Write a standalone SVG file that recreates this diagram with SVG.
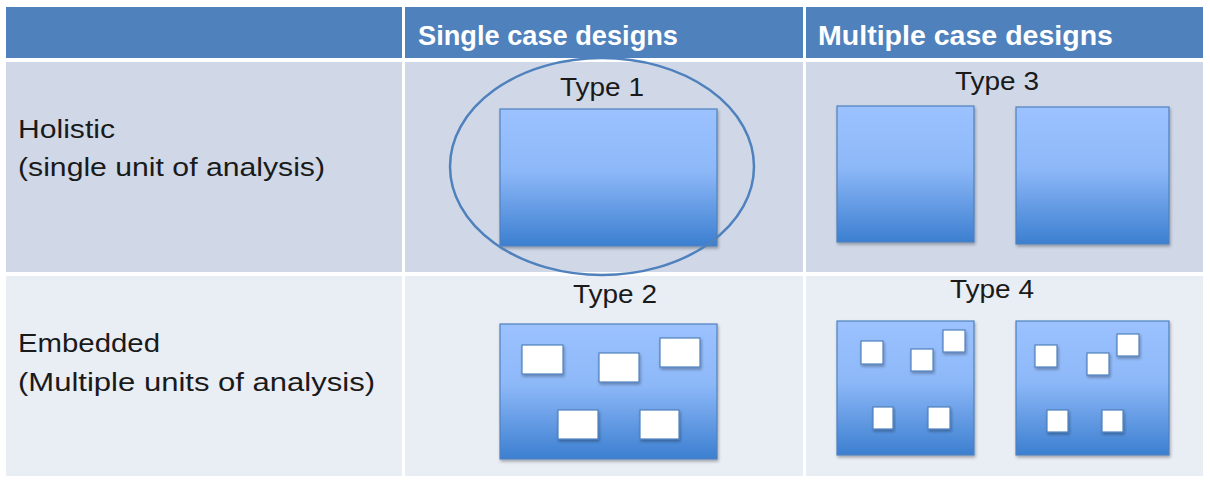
<svg xmlns="http://www.w3.org/2000/svg" width="1210" height="481" viewBox="0 0 1210 481">
  <style>
    .hdr { fill: #4F81BD; }
    .r1 { fill: #D0D8E8; }
    .r2 { fill: #E9EDF4; }
    .ht { font-family: "Liberation Sans", Arial, sans-serif; font-weight: bold; font-size: 27px; fill: #FFFFFF; }
    .lt { font-family: "Liberation Sans", Arial, sans-serif; font-size: 26px; fill: #1a1a1a; }
    .tt { font-family: "Liberation Sans", Arial, sans-serif; font-size: 26px; fill: #1a1a1a; text-anchor: middle; }
    .box { fill: url(#blueGrad); stroke: #4F81BD; stroke-width: 1.2; filter: url(#shadow); }
    .unit { fill: #FFFFFF; stroke: #4F81BD; stroke-width: 1.2; filter: url(#shadow); }
  </style>
  <defs>
    <linearGradient id="blueGrad" x1="0" y1="0" x2="0" y2="1">
      <stop offset="0" stop-color="#9CC2FF"/>
      <stop offset="0.45" stop-color="#8DB8F8"/>
      <stop offset="1" stop-color="#3C7FD0"/>
    </linearGradient>
    <filter id="shadow" x="-10%" y="-10%" width="125%" height="130%">
      <feDropShadow dx="1" dy="2" stdDeviation="1.5" flood-color="#000000" flood-opacity="0.3"/>
    </filter>
  </defs>
  <rect x="0" y="0" width="1210" height="481" fill="#FFFFFF"/>

  <g id="table">
    <rect class="hdr" x="6" y="7" width="396" height="51"/>
    <rect class="hdr" x="405" y="7" width="398" height="51"/>
    <rect class="hdr" x="806" y="7" width="397" height="51"/>
    <rect class="r1" x="6" y="62" width="396" height="210"/>
    <rect class="r1" x="405" y="62" width="398" height="210"/>
    <rect class="r1" x="806" y="62" width="397" height="210"/>
    <rect class="r2" x="6" y="276" width="396" height="200"/>
    <rect class="r2" x="405" y="276" width="398" height="200"/>
    <rect class="r2" x="806" y="276" width="397" height="200"/>
  </g>

  <g id="headers">
    <text class="ht" x="418" y="45" textLength="260" lengthAdjust="spacingAndGlyphs">Single case designs</text>
    <text class="ht" x="818" y="45" textLength="295" lengthAdjust="spacingAndGlyphs">Multiple case designs</text>
  </g>

  <g id="row-labels">
    <text class="lt" x="18" y="138" textLength="97" lengthAdjust="spacingAndGlyphs">Holistic</text>
    <text class="lt" x="18" y="176" textLength="307" lengthAdjust="spacingAndGlyphs">(single unit of analysis)</text>
    <text class="lt" x="18" y="352" textLength="142" lengthAdjust="spacingAndGlyphs">Embedded</text>
    <text class="lt" x="18" y="391" textLength="357" lengthAdjust="spacingAndGlyphs">(Multiple units of analysis)</text>
  </g>

  <g id="type1">
    <text class="tt" x="602" y="96" textLength="84" lengthAdjust="spacingAndGlyphs">Type 1</text>
    <rect class="box" x="500" y="109" width="217" height="137"/>
    <ellipse cx="602" cy="166.5" rx="152" ry="108.5" fill="none" stroke="#4F81BD" stroke-width="2.5"/>
  </g>

  <g id="type3">
    <text class="tt" x="997" y="90" textLength="84" lengthAdjust="spacingAndGlyphs">Type 3</text>
    <rect class="box" x="837" y="106" width="137" height="136"/>
    <rect class="box" x="1016" y="107" width="153" height="137"/>
  </g>

  <g id="type2">
    <text class="tt" x="615" y="303" textLength="84" lengthAdjust="spacingAndGlyphs">Type 2</text>
    <rect class="box" x="500" y="324" width="217" height="135"/>
    <rect class="unit" x="522" y="345" width="41" height="29"/>
    <rect class="unit" x="599" y="353" width="40" height="29"/>
    <rect class="unit" x="660" y="338" width="40" height="29"/>
    <rect class="unit" x="558" y="410" width="40" height="29"/>
    <rect class="unit" x="640" y="410" width="39" height="29"/>
  </g>

  <g id="type4">
    <text class="tt" x="992" y="298" textLength="84" lengthAdjust="spacingAndGlyphs">Type 4</text>
    <rect class="box" x="837" y="321" width="137" height="134"/>
    <rect class="unit" x="861" y="341" width="22" height="23"/>
    <rect class="unit" x="911" y="349" width="22" height="22"/>
    <rect class="unit" x="943" y="330" width="22" height="22"/>
    <rect class="unit" x="873" y="407" width="20" height="22"/>
    <rect class="unit" x="928" y="407" width="22" height="22"/>
    <rect class="box" x="1016" y="321" width="153" height="134"/>
    <rect class="unit" x="1035" y="345" width="22" height="22"/>
    <rect class="unit" x="1087" y="353" width="22" height="22"/>
    <rect class="unit" x="1117" y="334" width="22" height="22"/>
    <rect class="unit" x="1047" y="410" width="21" height="22"/>
    <rect class="unit" x="1102" y="410" width="21" height="22"/>
  </g>

  <g id="connectors"></g>
</svg>
